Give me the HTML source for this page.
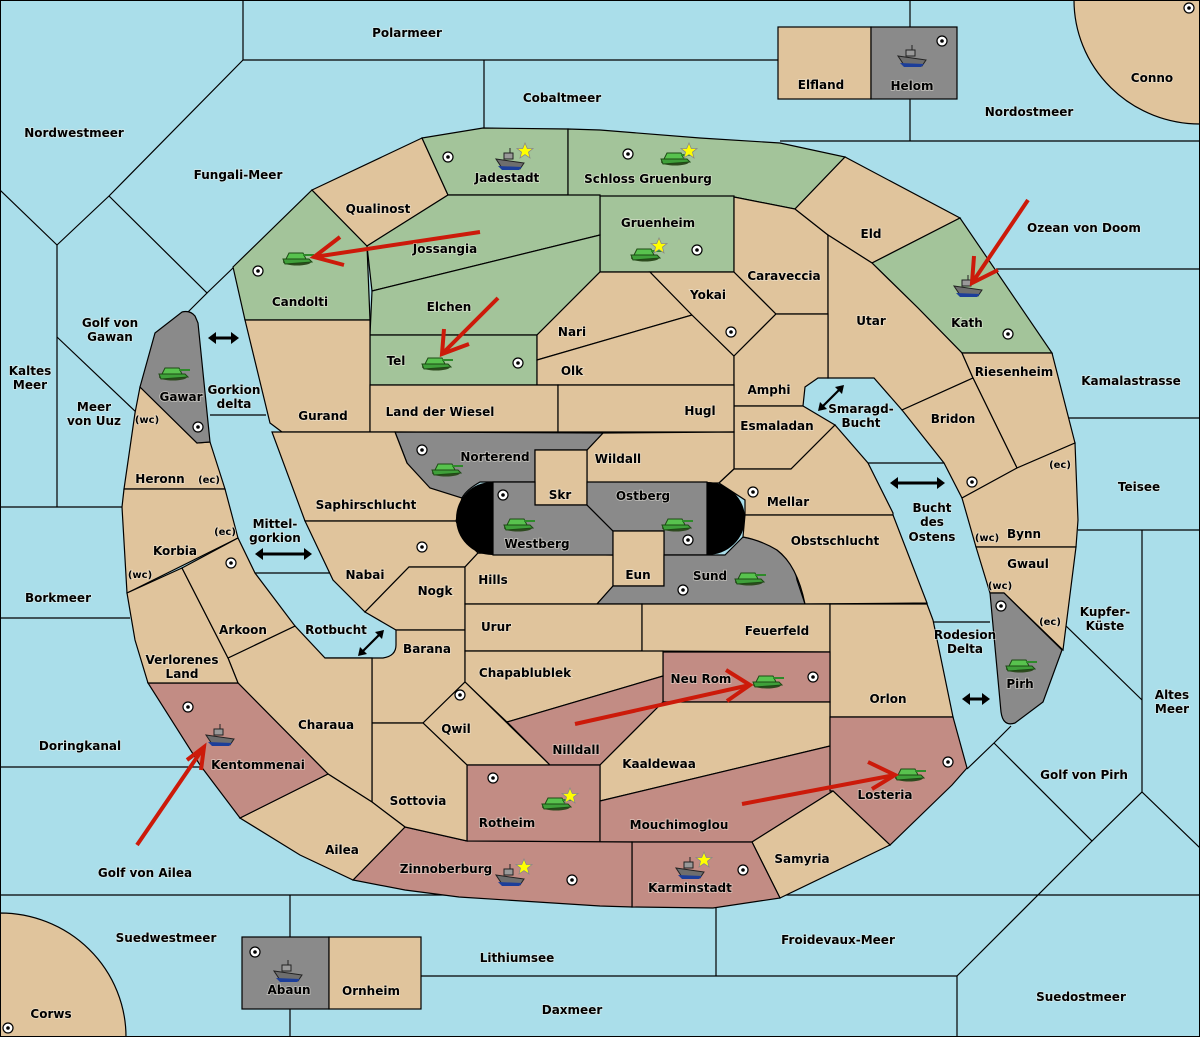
<!DOCTYPE html>
<html><head><meta charset="utf-8"><style>
html,body{margin:0;padding:0;background:#aadeea}
svg{display:block}
text{font-family:"DejaVu Sans","Liberation Sans",sans-serif;font-weight:bold;font-size:12px;fill:#000;text-anchor:middle;paint-order:stroke;stroke:#f4f0e8;stroke-width:1.6px;stroke-opacity:.55}
text.s{font-size:10px}
.t{fill:#e0c49c;stroke:#000;stroke-width:1.2}
.g{fill:#a3c49a;stroke:#000;stroke-width:1.2}
.r{fill:#c28c84;stroke:#000;stroke-width:1.2}
.k{fill:#8a8a8a;stroke:#000;stroke-width:1.2}
.l{stroke:#000;stroke-width:1.2;fill:none}
.a{stroke:#cc1a0a;stroke-width:4;fill:none;stroke-linecap:butt}
</style></head><body>
<svg width="1200" height="1037" viewBox="0 0 1200 1037" xmlns="http://www.w3.org/2000/svg">
<defs>
<g id="tank"><ellipse cx="0" cy="4" rx="14" ry="3.5" fill="#2d4a1e"/><path d="M-14,1 L12,1 L15,4 L-12,6 Z" fill="#3fa03a" stroke="#1d4a14" stroke-width="1"/><path d="M-8,-5 L6,-5 L9,1 L-11,1 Z" fill="#58c24e" stroke="#1d4a14" stroke-width="1"/><rect x="6" y="-4" width="11" height="2" fill="#2e8a2a"/></g>
<g id="ship"><path d="M-14,-1 L14,3 L10,9 L-8,8 Z" fill="#6e6e6e" stroke="#222" stroke-width="1"/><path d="M-12,6 L12,7 L9,10 L-8,10 Z" fill="#1c3e9a"/><rect x="-6" y="-7" width="9" height="6" fill="#999" stroke="#222" stroke-width="1"/><line x1="0" y1="-12" x2="0" y2="-7" stroke="#222"/></g>
<g id="sc"><circle r="5" fill="#fff" stroke="#000" stroke-width="1.2"/><circle r="1.8" fill="#000"/></g>
<polygon id="star" points="0,-8 2.3,-2.5 8,-2.5 3.5,1.2 5,7 0,3.6 -5,7 -3.5,1.2 -8,-2.5 -2.3,-2.5" fill="#ffff00" stroke="#888" stroke-width=".8"/>
</defs>
<rect width="1200" height="1037" fill="#aadeea"/>
<!-- sea lines -->
<g class="l">
<polyline points="243,0 243,60 778,60"/>
<line x1="484" y1="60" x2="484" y2="128"/>
<polyline points="243,60 109,196 57,245"/>
<line x1="0" y1="190" x2="57" y2="245"/>
<line x1="57" y1="245" x2="57" y2="507"/>
<polyline points="109,196 207,293 188,312"/>
<line x1="207" y1="293" x2="234" y2="267"/>
<line x1="57" y1="337" x2="137" y2="413"/>
<line x1="0" y1="507" x2="123" y2="507"/>
<line x1="210" y1="415" x2="266" y2="415"/>
<line x1="255" y1="573" x2="330" y2="573"/>
<line x1="0" y1="618" x2="130" y2="618"/>
<line x1="0" y1="767" x2="200" y2="767"/>
<line x1="0" y1="895" x2="1200" y2="895"/>
<line x1="290" y1="895" x2="290" y2="937"/>
<line x1="290" y1="1009" x2="290" y2="1037"/>
<line x1="421" y1="976" x2="957" y2="976"/>
<line x1="716" y1="908" x2="716" y2="976"/>
<line x1="957" y1="976" x2="957" y2="1037"/>
<line x1="910" y1="0" x2="910" y2="27"/>
<line x1="910" y1="99" x2="910" y2="141"/>
<line x1="780" y1="141" x2="1200" y2="141"/>
<line x1="996" y1="269" x2="1200" y2="269"/>
<line x1="1068" y1="418" x2="1200" y2="418"/>
<line x1="868" y1="463" x2="944" y2="463"/>
<line x1="933" y1="622" x2="990" y2="622"/>
<line x1="1078" y1="530" x2="1200" y2="530"/>
<line x1="1142" y1="530" x2="1142" y2="792"/>
<polyline points="1065,625 1142,700"/>
<polyline points="1011,726 994,743 967,769"/>
<polyline points="994,743 1092,841 1142,792 1200,848"/>
<line x1="1092" y1="841" x2="957" y2="976"/>
</g>
<path d="M1074,0 A126,124 0 0 0 1200,124 L1200,0 Z" class="t"/>
<path d="M0,913 A126,124 0 0 1 126,1037 L0,1037 Z" class="t"/>
<rect x="778" y="27" width="93" height="72" class="t"/>
<rect x="871" y="27" width="86" height="72" class="k"/>
<rect x="242" y="937" width="87" height="72" class="k"/>
<rect x="329" y="937" width="92" height="72" class="t"/>
<!-- north ring -->
<polygon class="g" points="233,267 312,190 367,246 370,320 245,320"/>
<polygon class="t" points="312,190 422,138 448,195 367,246"/>
<polygon class="g" points="422,138 483,128 568,129 568,195 448,195"/>
<polygon class="g" points="568,129 600,130 700,138 780,143 845,157 795,209 734,197 600,196 568,195"/>
<polygon class="g" points="600,196 734,196 734,272 600,272"/>
<polygon class="g" points="367,246 448,195 600,195 600,235 372,291"/>
<polygon class="g" points="372,291 600,235 600,272 537,335 370,335"/>
<polygon class="g" points="370,335 537,335 537,385 370,385"/>
<polygon class="t" points="537,335 600,272 650,272 692,315 537,360"/>
<polygon class="t" points="537,360 692,315 734,356 734,385 537,385"/>
<polygon class="t" points="650,272 734,272 776,314 734,356 692,315"/>
<polygon class="t" points="734,197 795,209 828,235 828,314 776,314 734,272"/>
<polygon class="t" points="795,209 845,157 960,218 872,263 828,235"/>
<polygon class="g" points="872,263 960,218 1052,353 962,353 918,308"/>
<polygon class="t" points="828,235 872,263 918,308 962,353 973,378 902,410 874,378 828,378"/>
<polygon class="t" points="962,353 1052,353 1075,443 1017,468 973,378"/>
<polygon class="t" points="902,410 973,378 1017,468 962,498 944,463"/>
<polygon class="t" points="962,498 1017,468 1075,443 1078,520 1076,547 976,547"/>
<polygon class="t" points="976,547 1076,547 1063,650 1004,593 990,593"/>
<path class="k" d="M990,593 L1004,593 L1062,650 L1043,702 L1015,723 Q1003,727 1001,712 Z"/>
<polygon class="t" points="734,356 776,314 828,314 828,378 818,378 805,387 803,406 734,406"/>
<polygon class="t" points="734,406 803,406 835,425 791,469 734,469"/>
<polygon class="t" points="245,320 370,320 370,432 282,432 270,423"/>
<polygon class="t" points="370,385 558,385 558,432 370,432"/>
<polygon class="t" points="558,385 734,385 734,432 558,432"/>
<polygon class="t" points="587,450 603,433 734,432 734,469 719,483 587,483"/>
<path class="k" d="M395,432 L603,433 L587,450 L535,450 L535,482 L480,482 Q466,490 462,498 Q440,494 430,488 Q412,478 407,463 Z"/>
<polygon class="t" points="535,450 587,450 587,505 535,505"/>
<polygon class="t" points="272,432 395,432 407,463 430,488 462,498 456,521 305,521"/>
<polygon class="t" points="305,521 456,521 465,540 478,553 465,567 409,567 365,612 333,580"/>
<polygon class="t" points="365,612 409,567 465,567 465,630 396,630"/>
<path class="t" d="M325,658 L383,658 Q396,656 396,645 L396,630 L465,630 L465,682 L423,723 L372,723 L372,658"/>
<polygon class="t" points="478,553 613,555 613,586 597,604 465,604 465,567"/>
<polygon class="k" points="493,482 535,482 535,505 587,505 613,531 613,555 493,555"/>
<polygon class="k" points="587,482 707,482 707,555 664,555 664,531 613,531 587,505"/>
<polygon class="t" points="613,531 664,531 664,586 613,586"/>
<path class="k" d="M597,604 L613,586 L664,586 L664,555 L725,555 L743,537 Q765,541 777,550 Q795,565 797,580 L805,604 Z"/>
<path d="M493,482 L492,482 A36,36.5 0 0 0 492,555 L493,555 Z" fill="#000"/>
<path d="M707,482 A38,36.5 0 0 1 707,555 Z" fill="#000"/>
<polygon class="t" points="719,483 734,469 791,469 835,425 868,463 893,513 893,515 745,515 745,500"/>
<path class="t" d="M745,515 L893,515 L927,603 L805,604 Q797,565 777,550 Q760,540 743,537 Z"/>
<polygon class="t" points="465,604 642,604 642,651 465,651"/>
<polygon class="t" points="642,604 830,604 830,652 642,651"/>
<polygon class="t" points="830,604 927,604 933,620 953,717 830,717"/>
<polygon class="r" points="663,652 830,652 830,702 663,702"/>
<polygon class="t" points="465,651 663,651 663,676 507,722 465,682"/>
<polygon class="t" points="423,723 465,682 550,765 467,765"/>
<polygon class="r" points="507,722 663,676 663,702 657,708 600,765 550,765"/>
<polygon class="t" points="600,765 657,708 663,702 830,702 830,746 600,801"/>
<polygon class="r" points="467,765 600,765 600,842 467,841"/>
<polygon class="r" points="600,801 830,746 833,791 752,842 600,842"/>
<polygon class="r" points="830,717 953,717 967,768 952,785 890,845 833,791 830,791"/>
<polygon class="t" points="752,842 833,791 890,845 780,898"/>
<polygon class="r" points="632,842 752,842 780,898 713,908 632,907"/>
<path class="r" d="M405,827 L467,841 L632,842 L632,907 L600,906 L459,897 L405,890 L353,880 Z"/>
<polygon class="t" points="372,723 423,723 467,765 467,841 405,827 372,802"/>
<polygon class="t" points="238,683 228,658 295,626 325,658 372,658 372,802 328,774"/>
<polygon class="t" points="240,818 328,774 372,802 405,827 353,880 300,855"/>
<polygon class="r" points="148,683 238,683 328,774 240,818 200,765"/>
<!-- west strip -->
<polygon class="t" points="140,387 197,443 210,442 225,489 124,489 135,413"/>
<path class="k" d="M140,387 L155,333 L182,312 Q190,310 195,316 L198,323 L210,442 L197,443 Z"/>
<polygon class="t" points="124,489 225,489 238,538 127,593 122,507"/>
<polygon class="t" points="127,593 182,568 228,658 238,683 148,683 135,640"/>
<polygon class="t" points="182,568 238,538 255,573 295,626 228,658"/>
<!-- arrows black -->
<g stroke="#000" stroke-width="3" fill="#000">
<line x1="214" y1="338" x2="233" y2="338"/><polygon points="208,338 216,332 216,344" stroke="none"/><polygon points="239,338 231,332 231,344" stroke="none"/>
<line x1="261" y1="554" x2="306" y2="554"/><polygon points="255,554 263,548 263,560" stroke="none"/><polygon points="312,554 304,548 304,560" stroke="none"/>
<line x1="896" y1="483" x2="939" y2="483"/><polygon points="890,483 898,477 898,489" stroke="none"/><polygon points="945,483 937,477 937,489" stroke="none"/>
<line x1="968" y1="699" x2="984" y2="699"/><polygon points="962,699 970,693 970,705" stroke="none"/><polygon points="990,699 982,693 982,705" stroke="none"/>
<line x1="360" y1="654" x2="382" y2="632" stroke-width="2.2"/><polygon points="358,656 360,647 367,654" stroke="none"/><polygon points="384,630 382,639 375,632" stroke="none"/>
<line x1="820" y1="409" x2="842" y2="387" stroke-width="2.2"/><polygon points="818,411 820,402 827,409" stroke="none"/><polygon points="844,385 842,394 835,387" stroke="none"/>
</g>
<!-- supply centers -->
<g>
<use href="#sc" x="448" y="157"/><use href="#sc" x="628" y="154"/><use href="#sc" x="697" y="250"/><use href="#sc" x="258" y="271"/>
<use href="#sc" x="518" y="363"/><use href="#sc" x="731" y="332"/><use href="#sc" x="1008" y="334"/><use href="#sc" x="942" y="41"/>
<use href="#sc" x="1189" y="8"/><use href="#sc" x="198" y="427"/><use href="#sc" x="422" y="450"/><use href="#sc" x="503" y="495"/>
<use href="#sc" x="688" y="540"/><use href="#sc" x="753" y="492"/><use href="#sc" x="422" y="547"/><use href="#sc" x="231" y="563"/>
<use href="#sc" x="683" y="590"/><use href="#sc" x="460" y="695"/><use href="#sc" x="972" y="482"/><use href="#sc" x="1001" y="606"/>
<use href="#sc" x="813" y="677"/><use href="#sc" x="948" y="762"/><use href="#sc" x="188" y="707"/><use href="#sc" x="493" y="778"/>
<use href="#sc" x="572" y="880"/><use href="#sc" x="743" y="870"/><use href="#sc" x="255" y="952"/><use href="#sc" x="8" y="1028"/>
</g>
<!-- units -->
<g>
<use href="#tank" x="297" y="258"/><use href="#tank" x="436" y="363"/><use href="#tank" x="645" y="254"/><use href="#tank" x="675" y="158"/>
<use href="#tank" x="173" y="373"/><use href="#tank" x="446" y="469"/><use href="#tank" x="518" y="524"/><use href="#tank" x="676" y="524"/>
<use href="#tank" x="749" y="578"/><use href="#tank" x="767" y="681"/><use href="#tank" x="909" y="774"/><use href="#tank" x="556" y="803"/>
<use href="#tank" x="1020" y="665"/>
<use href="#ship" x="510" y="160"/><use href="#ship" x="968" y="287"/><use href="#ship" x="912" y="57"/><use href="#ship" x="220" y="736"/>
<use href="#ship" x="510" y="876"/><use href="#ship" x="690" y="869"/><use href="#ship" x="288" y="972"/>
<use href="#star" x="525" y="151"/><use href="#star" x="689" y="151"/><use href="#star" x="659" y="246"/><use href="#star" x="570" y="796"/>
<use href="#star" x="524" y="867"/><use href="#star" x="704" y="860"/>
</g>
<!-- red arrows -->
<g class="a">
<line x1="480" y1="232" x2="314" y2="257"/><polyline points="340,237 314,257 344,265"/>
<line x1="498" y1="298" x2="442" y2="354"/><polyline points="444,329 442,354 469,344"/>
<line x1="1028" y1="200" x2="972" y2="283"/><polyline points="974,256 972,283 998,270"/>
<line x1="137" y1="845" x2="204" y2="747"/><polyline points="187,760 204,747 201,770"/>
<line x1="575" y1="724" x2="750" y2="685"/><polyline points="726,670 750,685 727,701"/>
<line x1="742" y1="804" x2="895" y2="775"/><polyline points="868,762 895,775 872,789"/>
</g>
<!-- labels -->
<g>
<text x="407" y="37">Polarmeer</text><text x="562" y="102">Cobaltmeer</text><text x="74" y="137">Nordwestmeer</text>
<text x="238" y="179">Fungali-Meer</text><text x="821" y="89">Elfland</text><text x="912" y="90">Helom</text>
<text x="1152" y="82">Conno</text><text x="1029" y="116">Nordostmeer</text><text x="507" y="182">Jadestadt</text>
<text x="648" y="183">Schloss Gruenburg</text><text x="378" y="213">Qualinost</text><text x="658" y="227">Gruenheim</text>
<text x="871" y="238">Eld</text><text x="1084" y="232">Ozean von Doom</text><text x="445" y="253">Jossangia</text>
<text x="784" y="280">Caraveccia</text><text x="300" y="306">Candolti</text><text x="708" y="299">Yokai</text>
<text x="110" y="327">Golf von</text><text x="110" y="341">Gawan</text><text x="449" y="311">Elchen</text>
<text x="572" y="336">Nari</text><text x="871" y="325">Utar</text><text x="967" y="327">Kath</text>
<text x="30" y="375">Kaltes</text><text x="30" y="389">Meer</text><text x="396" y="365">Tel</text><text x="572" y="375">Olk</text>
<text x="1014" y="376">Riesenheim</text><text x="1131" y="385">Kamalastrasse</text><text x="769" y="394">Amphi</text>
<text x="181" y="401">Gawar</text><text x="234" y="394">Gorkion</text><text x="234" y="408">delta</text>
<text x="94" y="411">Meer</text><text x="94" y="425">von Uuz</text><text x="147" y="423" class="s">(wc)</text>
<text x="861" y="413">Smaragd-</text><text x="861" y="427">Bucht</text><text x="440" y="416">Land der Wiesel</text>
<text x="323" y="420">Gurand</text><text x="700" y="415">Hugl</text><text x="953" y="423">Bridon</text>
<text x="777" y="430">Esmaladan</text><text x="495" y="461">Norterend</text><text x="618" y="463">Wildall</text>
<text x="160" y="483">Heronn</text><text x="209" y="483" class="s">(ec)</text><text x="1060" y="468" class="s">(ec)</text>
<text x="1139" y="491">Teisee</text><text x="560" y="499">Skr</text><text x="643" y="500">Ostberg</text>
<text x="788" y="506">Mellar</text><text x="366" y="509">Saphirschlucht</text>
<text x="932" y="512">Bucht</text><text x="932" y="526">des</text><text x="932" y="541">Ostens</text>
<text x="275" y="528">Mittel-</text><text x="275" y="542">gorkion</text><text x="225" y="535" class="s">(ec)</text>
<text x="987" y="541" class="s">(wc)</text><text x="1024" y="538">Bynn</text><text x="537" y="548">Westberg</text>
<text x="835" y="545">Obstschlucht</text><text x="175" y="555">Korbia</text><text x="140" y="578" class="s">(wc)</text>
<text x="1028" y="568">Gwaul</text><text x="365" y="579">Nabai</text><text x="638" y="579">Eun</text>
<text x="710" y="580">Sund</text><text x="493" y="584">Hills</text><text x="435" y="595">Nogk</text>
<text x="1000" y="589" class="s">(wc)</text><text x="58" y="602">Borkmeer</text>
<text x="1105" y="616">Kupfer-</text><text x="1105" y="630">Küste</text><text x="1050" y="625" class="s">(ec)</text>
<text x="496" y="631">Urur</text><text x="777" y="635">Feuerfeld</text><text x="336" y="634">Rotbucht</text>
<text x="243" y="634">Arkoon</text><text x="965" y="639">Rodesion</text><text x="965" y="653">Delta</text>
<text x="427" y="653">Barana</text><text x="182" y="664">Verlorenes</text><text x="182" y="678">Land</text>
<text x="525" y="677">Chapablublek</text><text x="701" y="683">Neu Rom</text><text x="1020" y="688">Pirh</text>
<text x="888" y="703">Orlon</text><text x="1172" y="699">Altes</text><text x="1172" y="713">Meer</text>
<text x="326" y="729">Charaua</text><text x="456" y="733">Qwil</text><text x="80" y="750">Doringkanal</text>
<text x="576" y="754">Nilldall</text><text x="258" y="769">Kentommenai</text><text x="659" y="768">Kaaldewaa</text>
<text x="1084" y="779">Golf von Pirh</text><text x="885" y="799">Losteria</text><text x="418" y="805">Sottovia</text>
<text x="507" y="827">Rotheim</text><text x="679" y="829">Mouchimoglou</text><text x="342" y="854">Ailea</text>
<text x="802" y="863">Samyria</text><text x="145" y="877">Golf von Ailea</text><text x="446" y="873">Zinnoberburg</text>
<text x="690" y="892">Karminstadt</text><text x="166" y="942">Suedwestmeer</text><text x="838" y="944">Froidevaux-Meer</text>
<text x="517" y="962">Lithiumsee</text><text x="289" y="994">Abaun</text><text x="371" y="995">Ornheim</text>
<text x="1081" y="1001">Suedostmeer</text><text x="572" y="1014">Daxmeer</text><text x="51" y="1018">Corws</text>
</g>
<rect x="0.5" y="0.5" width="1199" height="1036" fill="none" stroke="#000"/>
</svg>
</body></html>
